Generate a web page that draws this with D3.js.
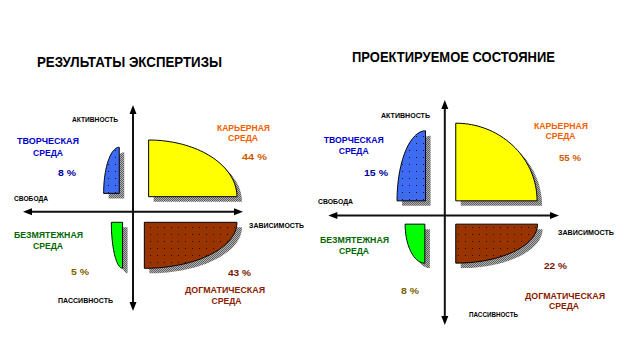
<!DOCTYPE html>
<html>
<head>
<meta charset="utf-8">
<script src="https://cdn.jsdelivr.net/npm/d3@7"></script>
<style>
  body { margin: 0; background: #fff; }
  text { font-family: "Liberation Sans", Arial, sans-serif; font-weight: bold; }
</style>
</head>
<body>
<div id="chart"></div>
<script>
// data
var titles = ["РЕЗУЛЬТАТЫ ЭКСПЕРТИЗЫ", "ПРОЕКТИРУЕМОЕ СОСТОЯНИЕ"];
var quadrants = [["ТВОРЧЕСКАЯ", "СРЕДА"], ["КАРЬЕРНАЯ", "СРЕДА"], ["БЕЗМЯТЕЖНАЯ", "СРЕДА"], ["ДОГМАТИЧЕСКАЯ", "СРЕДА"]];
var axisNames = ["АКТИВНОСТЬ", "ПАССИВНОСТЬ", "СВОБОДА", "ЗАВИСИМОСТЬ"];
var expertValues = [8, 44, 5, 43];
var projectValues = [15, 55, 8, 22];
// reach of each sector along the axes, axis units (inner edge, outer edge)
var expertReachX = [[-12.5, -26.7], [14.2, 94.5], [-9.5, -19.7], [10.3, 94.5]];
var expertReachY = [[17.2, 60.4], [14.1, 67.2], [-9.9, -53], [-9.9, -53]];
var projectReachX = [[-16.7, -41.4], [9.5, 80], [-17.3, -34.4], [9.5, 80.4]];
var projectReachY = [[12.6, 73.3], [12.6, 79.9], [-7.6, -41.4], [-7.6, -41.4]];

var fills = ["url(#dotBlue)", "#ffff00", "#00ff00", "url(#dotBrown)"];
var nameColors = ["#0000cc", "#f06000", "#006600", "#8b1a00"];
var pctColors = ["#000099", "#d05a00", "#806000", "#7a1500"];

var svg = d3.select("#chart").append("svg")
    .attr("width", 624)
    .attr("height", 355);

// patterns
var defs = svg.append("defs");
function dots(id, base) {
  var p = defs.append("pattern").attr("id", id)
      .attr("patternUnits", "userSpaceOnUse").attr("width", 7).attr("height", 7);
  p.append("rect").attr("width", 7).attr("height", 7).attr("fill", base);
  p.append("rect").attr("x", 3).attr("y", 3).attr("width", 1).attr("height", 1).attr("fill", "#111");
}
dots("dotBlue", "#3d6cf2");
dots("dotBrown", "#993300");
var sh = defs.append("pattern").attr("id", "shade")
    .attr("patternUnits", "userSpaceOnUse").attr("width", 2).attr("height", 2);
sh.append("rect").attr("width", 2).attr("height", 2).attr("fill", "#b0b0b0");
sh.append("rect").attr("width", 1).attr("height", 1).attr("fill", "#606060");
sh.append("rect").attr("x", 1).attr("y", 1).attr("width", 1).attr("height", 1).attr("fill", "#606060");

function label(x, y, str, size, w, color) {
  svg.append("text")
      .attr("x", x).attr("y", y).attr("dy", "0.36em")
      .attr("text-anchor", "middle")
      .attr("font-size", size)
      .attr("fill", color || "#000")
      .attr("textLength", w)
      .attr("lengthAdjust", "spacingAndGlyphs")
      .text(str);
}

function drawChart(cfg) {
  var x = d3.scaleLinear().domain(cfg.xDomain).range(cfg.xRange);
  var y = d3.scaleLinear().domain(cfg.yDomain).range(cfg.yRange);

  var line = d3.line()
      .x(function(d) { return x(d[0]); })
      .y(function(d) { return y(d[1]); });

  // quarter ellipse for each sector
  function sector(i) {
    var rx = cfg.reachX[i], ry = cfg.reachY[i];
    var pts = [[rx[0], ry[0]]];
    d3.range(0, 41).forEach(function(k) {
      var t = k / 40 * Math.PI / 2;
      pts.push([rx[0] + (rx[1] - rx[0]) * Math.cos(t), ry[0] + (ry[1] - ry[0]) * Math.sin(t)]);
    });
    return line(pts) + "Z";
  }

  var g = svg.append("g");
  cfg.values.forEach(function(v, i) {
    g.append("path")
        .attr("d", sector(i))
        .attr("transform", "translate(5,5)")
        .attr("fill", "url(#shade)");
    g.append("path")
        .attr("d", sector(i))
        .attr("fill", fills[i])
        .attr("stroke", "#000")
        .attr("stroke-width", 1);
  });

  // axes with arrows
  var cx = x(0), cy = y(0);
  var x0 = x(cfg.xDomain[0]), x1 = x(cfg.xDomain[1]);
  var yTop = y(cfg.yDomain[1]), yBot = y(cfg.yDomain[0]);
  svg.append("line").attr("x1", x0 + 6).attr("x2", x1 - 6).attr("y1", cy).attr("y2", cy)
      .attr("stroke", "#111").attr("stroke-width", 2);
  svg.append("line").attr("x1", cx).attr("x2", cx).attr("y1", yTop + 6).attr("y2", yBot - 6)
      .attr("stroke", "#111").attr("stroke-width", 2);
  var heads = [
    [[x0, cy], [x0 + 9, cy - 3.5], [x0 + 9, cy + 3.5]],
    [[x1, cy], [x1 - 9, cy - 3.5], [x1 - 9, cy + 3.5]],
    [[cx, yTop], [cx - 3.5, yTop + 9], [cx + 3.5, yTop + 9]],
    [[cx, yBot], [cx - 3.5, yBot - 9], [cx + 3.5, yBot - 9]]
  ];
  heads.forEach(function(h) {
    svg.append("path").attr("d", "M" + h.join("L") + "Z").attr("fill", "#000");
  });

  // title
  label(cfg.title[0], cfg.title[1], cfg.titleText, 14, cfg.title[2]);

  // axis names
  cfg.axisPos.forEach(function(p, i) {
    label(p[0], p[1], axisNames[i], 6.5, p[2]);
  });

  // quadrant names and percents
  cfg.namePos.forEach(function(p, i) {
    label(p[0], p[1], quadrants[i][0], 9, p[2], nameColors[i]);
    label(p[3], p[4], quadrants[i][1], 9, 30, nameColors[i]);
  });
  cfg.pctPos.forEach(function(p, i) {
    label(p[0], p[1], cfg.values[i] + " %", 9.5, p[2], pctColors[i]);
  });
}

drawChart({
  titleText: titles[0],
  values: expertValues,
  reachX: expertReachX,
  reachY: expertReachY,
  xDomain: [-100, 100], xRange: [23, 243],
  yDomain: [-93, 100], yRange: [311, 105],
  title: [129.5, 62, 185],
  axisPos: [[95, 120, 46], [85.5, 300.7, 55], [31, 198.7, 34], [276.5, 226, 55]],
  namePos: [[48, 141, 62, 48, 152.7], [243.5, 127.5, 53, 243, 137.5],
            [48.5, 234.7, 69, 48, 246], [225, 289.3, 80, 226.5, 301]],
  pctPos: [[67, 172.7, 18], [254.5, 157, 25], [80, 271.7, 18], [239.5, 272.7, 23]]
});

drawChart({
  titleText: titles[1],
  values: projectValues,
  reachX: projectReachX,
  reachY: projectReachY,
  xDomain: [-101, 99], xRange: [328.3, 559],
  yDomain: [-95, 100], yRange: [325, 100],
  title: [453.5, 57.3, 203],
  axisPos: [[405.5, 115.7, 49], [493.5, 314.3, 49], [335.5, 201.3, 35], [586, 232.3, 56]],
  namePos: [[353.7, 140, 60, 353.7, 150.7], [561, 125.5, 54, 560.5, 135.5],
            [354.5, 240, 69, 354, 251], [565, 295.7, 80, 564, 305.7]],
  pctPos: [[376, 172.3, 24], [570, 157.3, 22], [410, 290.7, 18], [555.5, 266, 23]]
});
</script>
</body>
</html>
